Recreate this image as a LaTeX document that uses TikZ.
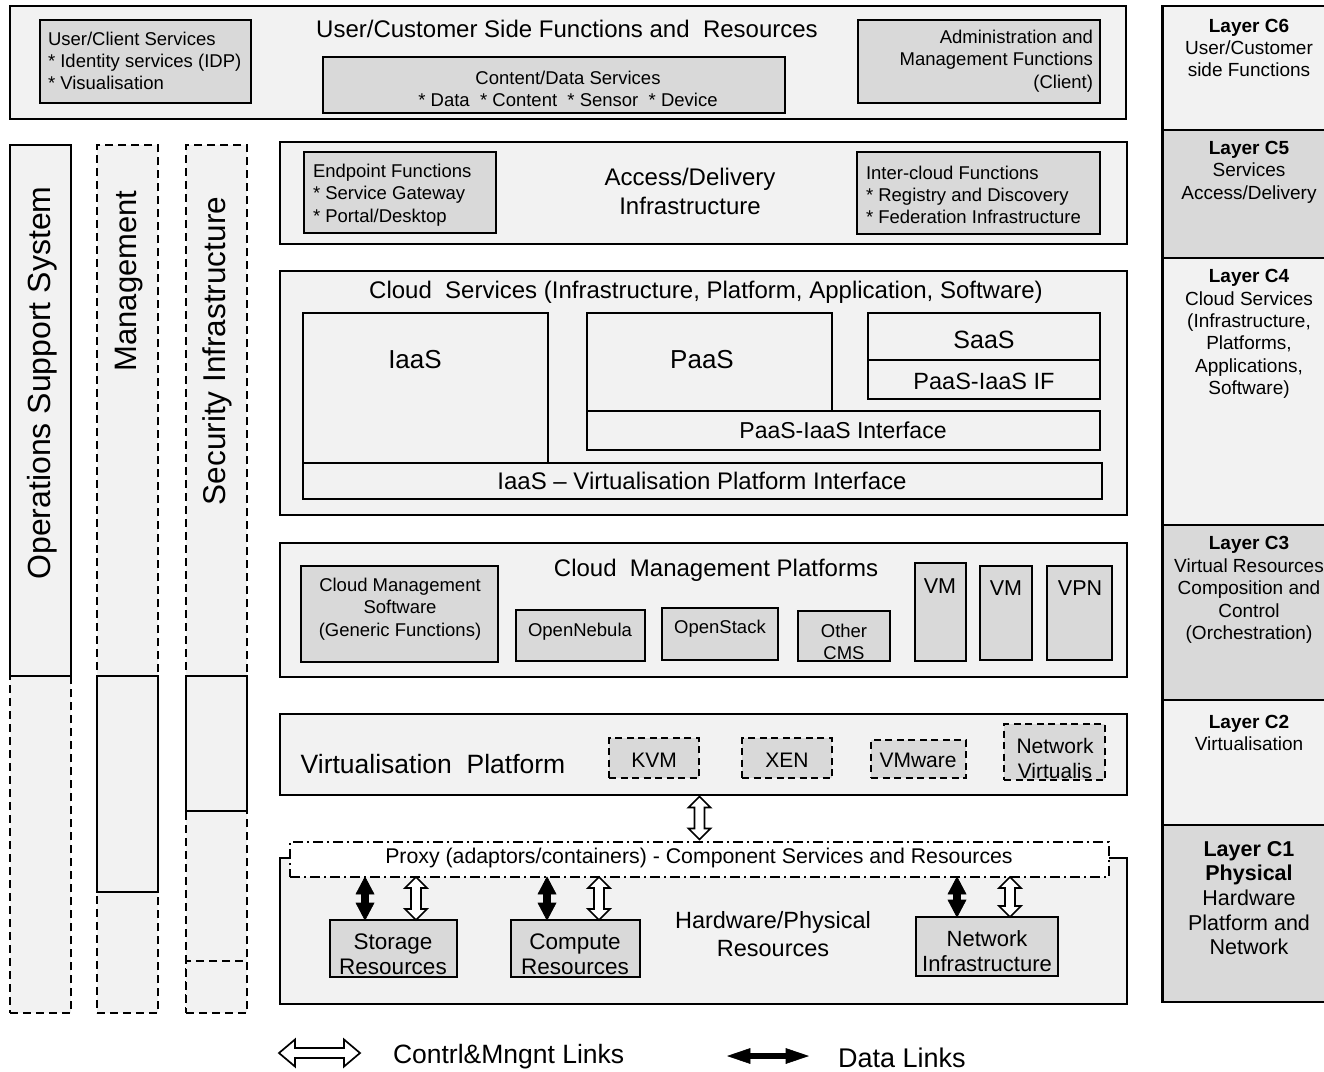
\documentclass[tikz,border=0pt]{standalone}
\usepackage{fontspec}
\setmainfont{Liberation Sans}
\usetikzlibrary{calc}
\definecolor{paneL}{HTML}{F2F2F2}
\definecolor{paneD}{HTML}{D9D9D9}
\newcommand\fsz[2]{\fontsize{#1}{#2}\selectfont}
% box node given by its corners: name, x1, y1, x2, y2, style
\newcommand\bx[6]{\node[#6, minimum width={#4-#2}, minimum height={#5-#3}] (#1) at ({(#2+#4)/2},{(#3+#5)/2}) {};}
% vertical block arrow with two heads: style, upper end, lower end, head length, head half-width, shaft half-width
\newcommand\varrow[6]{\draw[#1] let \p1=(#2), \p2=(#3) in
  (\x1,\y1) -- (\x1+#5,\y1-#4) -- (\x1+#6,\y1-#4) -- (\x1+#6,\y2+#4) -- (\x1+#5,\y2+#4) -- (\x1,\y2)
  -- (\x1-#5,\y2+#4) -- (\x1-#6,\y2+#4) -- (\x1-#6,\y1-#4) -- (\x1-#5,\y1-#4) -- cycle;}
% horizontal block arrow with two heads: style, left end, right end, head length, head half-width, shaft half-width
\newcommand\harrow[6]{\draw[#1] let \p1=(#2), \p2=(#3) in
  (\x1,\y1) -- (\x1+#4,\y1+#5) -- (\x1+#4,\y1+#6) -- (\x2-#4,\y1+#6) -- (\x2-#4,\y1+#5) -- (\x2,\y1)
  -- (\x2-#4,\y1-#5) -- (\x2-#4,\y1-#6) -- (\x1+#4,\y1-#6) -- (\x1+#4,\y1-#5) -- cycle;}
\begin{document}
\begin{tikzpicture}[x=1pt,y=-1pt,
  panelbox/.style={draw=black, line width=1.8pt, fill=paneL, inner sep=0pt, outer sep=0pt},
  subbox/.style={draw=black, line width=1.8pt, fill=paneD, inner sep=0pt, outer sep=0pt},
  subboxL/.style={subbox, fill=paneL},
  dashsub/.style={subbox, dash pattern=on 7pt off 4.5pt},
  colbox/.style={panelbox},
  dashcol/.style={panelbox, dash pattern=on 8pt off 5pt},
  proxybox/.style={draw=black, line width=1.6pt, fill=white, dash pattern=on 10pt off 4pt on 2pt off 4pt, inner sep=0pt, outer sep=0pt},
  layL/.style={draw=black, line width=2pt, fill=paneL, inner sep=0pt, outer sep=0pt},
  layD/.style={layL, fill=paneD},
  tx/.style={inner sep=0pt, outer sep=0pt, align=center, text=black},
  tsmall/.style={tx, font=\fsz{18.5}{22.3}},
  tlay/.style={tx, font=\fsz{19}{22.4}},
  hollowarr/.style={draw=black, fill=white, line width=1.7pt, line join=miter},
  dataarr/.style={draw=black, fill=black, line width=0.6pt, line join=miter},
]
\fill[white] (0,0) rectangle (1324,1071);
\useasboundingbox (0,0) rectangle (1324,1071);

% ---- vertical side columns ----
\bx{ossLow}{10}{676}{71}{1013}{dashcol}
\bx{oss}{10}{145}{71}{676}{colbox}
\bx{mgtTop}{97}{145}{158}{676}{dashcol}
\bx{mgtLow}{97}{892}{158}{1013}{dashcol}
\bx{mgt}{97}{676}{158}{892}{colbox}
\bx{secTop}{186}{145}{247}{676}{dashcol}
\bx{secLow}{186}{811}{247}{1013}{dashcol}
\bx{secFoot}{186}{961}{247}{1013}{dashcol}
\bx{sec}{186}{676}{247}{811}{colbox}
\node[tx, rotate=90, font=\fsz{32}{36}] (ossT) at (42,383) {Operations Support System};
\node[tx, rotate=90, font=\fsz{31}{36}] (mgtT) at (129,281) {Management};
\node[tx, rotate=90, font=\fsz{31.5}{36}] (secT) at (217,351) {Security Infrastructure};

% ---- C6: user/customer side ----
\bx{ucf}{10}{6}{1126}{119}{panelbox}
\node[tx, font=\fsz{24}{28}] (ucfT) at (567,29) {User/Customer Side Functions and\ \ Resources};
\bx{ucs}{40}{20}{251}{103}{subbox}
\node[tsmall, anchor=west, align=left] (ucsT) at (48,61) {User/Client Services\\* Identity services (IDP)\\* Visualisation};
\bx{cds}{323}{57}{785}{113}{subbox}
\node[tsmall] (cdsT) at (568,89) {Content/Data Services\\* Data\ \ * Content\ \ * Sensor\ \ * Device};
\bx{amf}{858}{20}{1100}{103}{subbox}
\node[tsmall, anchor=east, align=right] (amfT) at (1093,61) {Administration and\\Management Functions\\(Client)};

% ---- C5: access / delivery ----
\bx{adi}{280}{142}{1127}{244}{panelbox}
\bx{epf}{304}{152}{496}{233}{subbox}
\node[tsmall, anchor=west, align=left] (epfT) at (313,195) {Endpoint Functions\\* Service Gateway\\* Portal/Desktop};
\node[tx, font=\fsz{24}{29}] (adiT) at (690,191) {Access/Delivery\\Infrastructure};
\bx{icf}{857}{152}{1100}{234}{subbox}
\node[tsmall, anchor=west, align=left] (icfT) at (866,195) {Inter-cloud Functions\\* Registry and Discovery\\* Federation Infrastructure};

% ---- C4: cloud services ----
\bx{cls}{280}{271}{1127}{515}{panelbox}
\node[tx, font=\fsz{24}{28}] (clsT) at (706,292) {Cloud\ \ Services (Infrastructure, Platform, Application, Software)};
\bx{iaas}{303}{313}{548}{463}{subboxL}
\node[tx, font=\fsz{26}{30}] (iaasT) at (415,360) {IaaS};
\bx{paas}{587}{313}{832}{411}{subboxL}
\node[tx, font=\fsz{26}{30}] (paasT) at (702,360) {PaaS};
\bx{saas}{868}{313}{1100}{360}{subboxL}
\node[tx, font=\fsz{25}{30}] (saasT) at (984,340) {SaaS};
\bx{pif}{868}{360}{1100}{399}{subboxL}
\node[tx, font=\fsz{23.5}{28}] (pifT) at (984,381) {PaaS-IaaS IF};
\bx{pii}{587}{411}{1100}{450}{subboxL}
\node[tx, font=\fsz{23}{28}] (piiT) at (843,430) {PaaS-IaaS Interface};
\bx{ivp}{303}{463}{1102}{499}{subboxL}
\node[tx, font=\fsz{24}{28}] (ivpT) at (702,481) {IaaS – Virtualisation Platform Interface};

% ---- C3: cloud management platforms ----
\bx{cmp}{280}{543}{1127}{677}{panelbox}
\node[tx, font=\fsz{24}{28}] (cmpT) at (716,570) {Cloud\ \ Management Platforms};
\bx{cmsw}{301}{566}{498}{662}{subbox}
\node[tsmall] (cmswT) at (400,609) {Cloud Management\\Software\\(Generic Functions)};
\bx{onb}{516}{610}{645}{661}{subbox}
\node[tsmall] (onbT) at (580,632) {OpenNebula};
\bx{ost}{662}{608}{778}{660}{subbox}
\node[tsmall] (ostT) at (720,629) {OpenStack};
\bx{ocms}{798}{611}{890}{661}{subbox}
\node[tsmall] (ocmsT) at (844,642) {Other\\CMS};
\bx{vmA}{915}{563}{966}{661}{subbox}
\node[tx, font=\fsz{21.5}{26}] (vmAT) at (940,586) {VM};
\bx{vmB}{980}{566}{1032}{660}{subbox}
\node[tx, font=\fsz{21.5}{26}] (vmBT) at (1006,588) {VM};
\bx{vpn}{1047}{566}{1112}{660}{subbox}
\node[tx, font=\fsz{21.5}{26}] (vpnT) at (1080,588) {VPN};

% ---- C2: virtualisation platform ----
\bx{vpl}{280}{714}{1127}{795}{panelbox}
\node[tx, font=\fsz{26.5}{30}] (vplT) at (433,764) {Virtualisation\ \ Platform};
\bx{kvm}{609}{738}{699}{778}{dashsub}
\node[tx, font=\fsz{21}{25}] (kvmT) at (654,760) {KVM};
\bx{xen}{742}{738}{832}{778}{dashsub}
\node[tx, font=\fsz{21}{25}] (xenT) at (787,760) {XEN};
\bx{vmw}{871}{740}{966}{778}{dashsub}
\node[tx, font=\fsz{21}{25}] (vmwT) at (918,760) {VMware};
\bx{nvi}{1004}{724}{1105}{780}{dashsub}
\node[tx, font=\fsz{21}{25}] (nviT) at (1055,758) {Network\\Virtualis};

% ---- C1: hardware / physical resources ----
\bx{hwr}{280}{858}{1127}{1004}{panelbox}
\bx{prx}{290}{842}{1109}{877}{proxybox}
\node[tx, font=\fsz{21.3}{25}] (prxT) at (699,858) {Proxy (adaptors/containers) - Component Services and Resources};
\bx{sto}{330}{920}{457}{977}{subbox}
\node[tx, font=\fsz{22.5}{25}] (stoT) at (393,954) {Storage\\Resources};
\bx{cpu}{511}{920}{640}{977}{subbox}
\node[tx, font=\fsz{22.5}{25}] (cpuT) at (575,954) {Compute\\Resources};
\bx{net}{916}{917}{1058}{976}{subbox}
\node[tx, font=\fsz{22}{25}] (netT) at (987,951) {Network\\Infrastructure};
\node[tx, font=\fsz{23.5}{28}] (hwrT) at (773,934) {Hardware/Physical\\Resources};

% ---- links ----
\coordinate (vpA) at ([yshift=-1.5pt]prx.north |- vpl.south);
\coordinate (vpB) at ([yshift=2.5pt]prx.north);
\varrow{hollowarr}{vpA}{vpB}{11pt}{11pt}{5pt}
\coordinate (stoD) at ([xshift=-28.5pt]sto.north);
\coordinate (stoC) at ([xshift=22.5pt]sto.north);
\coordinate (cpuD) at ([xshift=-28.5pt]cpu.north);
\coordinate (cpuC) at ([xshift=23.5pt]cpu.north);
\coordinate (netD) at ([xshift=-30pt]net.north);
\coordinate (netC) at ([xshift=23pt]net.north);
\varrow{dataarr}{stoD |- prx.south}{stoD}{17pt}{9pt}{3.5pt}
\varrow{hollowarr}{stoC |- prx.south}{stoC}{11pt}{11pt}{5pt}
\varrow{dataarr}{cpuD |- prx.south}{cpuD}{17pt}{9pt}{3.5pt}
\varrow{hollowarr}{cpuC |- prx.south}{cpuC}{11pt}{11pt}{5pt}
\varrow{dataarr}{netD |- prx.south}{netD}{17pt}{9pt}{3.5pt}
\varrow{hollowarr}{netC |- prx.south}{netC}{11pt}{11pt}{5pt}

% ---- legend ----
\coordinate (lgA) at (279,1053);
\coordinate (lgB) at (360,1053);
\harrow{hollowarr}{lgA}{lgB}{16pt}{13.5pt}{5pt}
\node[tx, anchor=west, font=\fsz{26.5}{30}] (lgAT) at (393,1057) {Contrl\&Mngnt Links};
\coordinate (lgC) at (728,1056);
\coordinate (lgD) at (808,1056);
\harrow{dataarr}{lgC}{lgD}{22pt}{7.5pt}{2.5pt}
\node[tx, anchor=west, font=\fsz{27}{30}] (lgBT) at (838,1058) {Data Links};

% ---- layer column ----
\bx{lc6}{1162}{6}{1340}{130}{layL}
\bx{lc5}{1162}{130}{1340}{258}{layD}
\bx{lc4}{1162}{258}{1340}{525}{layL}
\bx{lc3}{1162}{525}{1340}{700}{layD}
\bx{lc2}{1162}{700}{1340}{825}{layL}
\bx{lc1}{1162}{825}{1340}{1002}{layD}
\draw[line width=3pt] (lc6.north west) -- (lc1.south west);
\node[tlay] (lc6T) at (1249,48) {\textbf{Layer C6}\\User/Customer\\side Functions};
\node[tlay] (lc5T) at (1249,172) {\textbf{Layer C5}\\Services\\Access/Delivery};
\node[tlay] (lc4T) at (1249,334) {\textbf{Layer C4}\\Cloud Services\\(Infrastructure,\\Platforms,\\Applications,\\Software)};
\node[tlay] (lc3T) at (1249,590) {\textbf{Layer C3}\\Virtual Resources\\Composition and\\Control\\(Orchestration)};
\node[tlay] (lc2T) at (1249,733) {\textbf{Layer C2}\\Virtualisation};
\node[tx, font=\fsz{21.5}{24.7}] (lc1T) at (1249,898) {\textbf{Layer C1}\\\textbf{Physical}\\Hardware\\Platform and\\Network};
\end{tikzpicture}
\end{document}
